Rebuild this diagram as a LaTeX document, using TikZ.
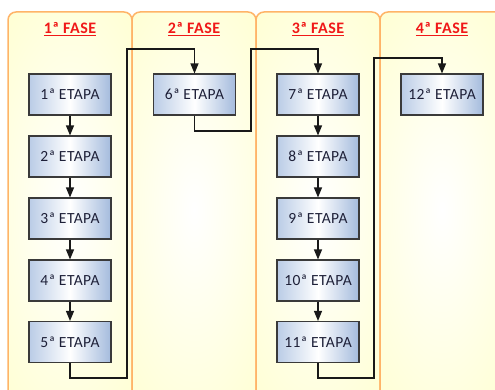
\documentclass[tikz,border=0pt]{standalone}
\usepackage{fontspec}
\setmainfont{Carlito}
\newfontfamily\widefont[LetterSpace=3]{Carlito}
\usetikzlibrary{arrows.meta}
\definecolor{panelfill}{HTML}{FFFFD4}
\definecolor{panelline}{HTML}{FFB468}
\definecolor{boxleft}{HTML}{BACCE6}
\definecolor{boxright}{HTML}{A4BBDD}
\definecolor{boxline}{HTML}{3A3A3A}
\definecolor{boxtext}{HTML}{1E2038}
\definecolor{titlered}{HTML}{F01818}
\tikzset{
  stagebox/.style={draw=boxline, line width=1.1pt, left color=boxleft, right color=boxright,
    middle color=white, minimum width=82pt, minimum height=41pt, inner sep=0pt,
    text=boxtext, font=\widefont\fontsize{15.5}{16}\selectfont},
  phasetitle/.style={text=titlered, font=\widefont\fontsize{16}{17}\selectfont\bfseries},
  flow/.style={draw=black!90, line width=1.2pt, -{Triangle[length=10pt,width=8pt]}},
  panelborder/.style={draw=panelline, line width=1.5pt, rounded corners=8pt},
}
\begin{document}
\begin{tikzpicture}[x=1pt,y=-1pt]
\useasboundingbox (0,0) rectangle (495,390);
\fill[white] (0,0) rectangle (495,390);

% phase panels: yellow base with a soft light patch
\foreach \l/\r/\c in {8/132/70, 132/256/194, 256/380/318, 380/505/442}{
  \begin{scope}
    \clip[rounded corners=8pt] (\l,400) -- (\l,12) -- (\r,12) -- (\r,400) -- cycle;
    \fill[panelfill] (\l,0) rectangle (\r,400);
    \shade[inner color=white, outer color=panelfill] (\c-100,-40) rectangle (\c+100,460);
  \end{scope}
  \draw[panelborder] (\l,400) -- (\l,12) -- (\r,12) -- (\r,400);
}

% phase titles
\node[phasetitle] (f1) at (70,29) {\underline{1ª FASE}};
\node[phasetitle] (f2) at (194,29) {\underline{2ª FASE}};
\node[phasetitle] (f3) at (318,29) {\underline{3ª FASE}};
\node[phasetitle] (f4) at (442,29) {\underline{4ª FASE}};

% stages
\node[stagebox] (e1) at (70,94.5) {1ª ETAPA};
\node[stagebox] (e2) at (70,156.5) {2ª ETAPA};
\node[stagebox] (e3) at (70,218.5) {3ª ETAPA};
\node[stagebox] (e4) at (70,280.5) {4ª ETAPA};
\node[stagebox] (e5) at (70,342) {5ª ETAPA};
\node[stagebox] (e6) at (194.5,94.5) {6ª ETAPA};
\node[stagebox] (e7) at (318,94.5) {7ª ETAPA};
\node[stagebox] (e8) at (318,156.5) {8ª ETAPA};
\node[stagebox] (e9) at (318,218.5) {9ª ETAPA};
\node[stagebox] (e10) at (318,280.5) {10ª ETAPA};
\node[stagebox] (e11) at (318,342) {11ª ETAPA};
\node[stagebox] (e12) at (442,94.5) {12ª ETAPA};

% arrows inside a phase
\foreach \a/\b in {e1/e2, e2/e3, e3/e4, e4/e5, e7/e8, e8/e9, e9/e10, e10/e11}
  \draw[flow] (\a.south) -- (\b.north);

% hand-over routes between phases
\coordinate (c1) at (127,378);
\coordinate (c2) at (127,49);
\coordinate (c3) at (251,131);
\coordinate (c4) at (251,49);
\coordinate (c5) at (374,378);
\coordinate (c6) at (374,58);
\draw[flow] (e5.south) |- (c1) -- (c2) -| (e6.north);
\draw[flow] (e6.south) |- (c3) -- (c4) -| (e7.north);
\draw[flow] (e11.south) |- (c5) -- (c6) -| (e12.north);
\end{tikzpicture}
\end{document}
